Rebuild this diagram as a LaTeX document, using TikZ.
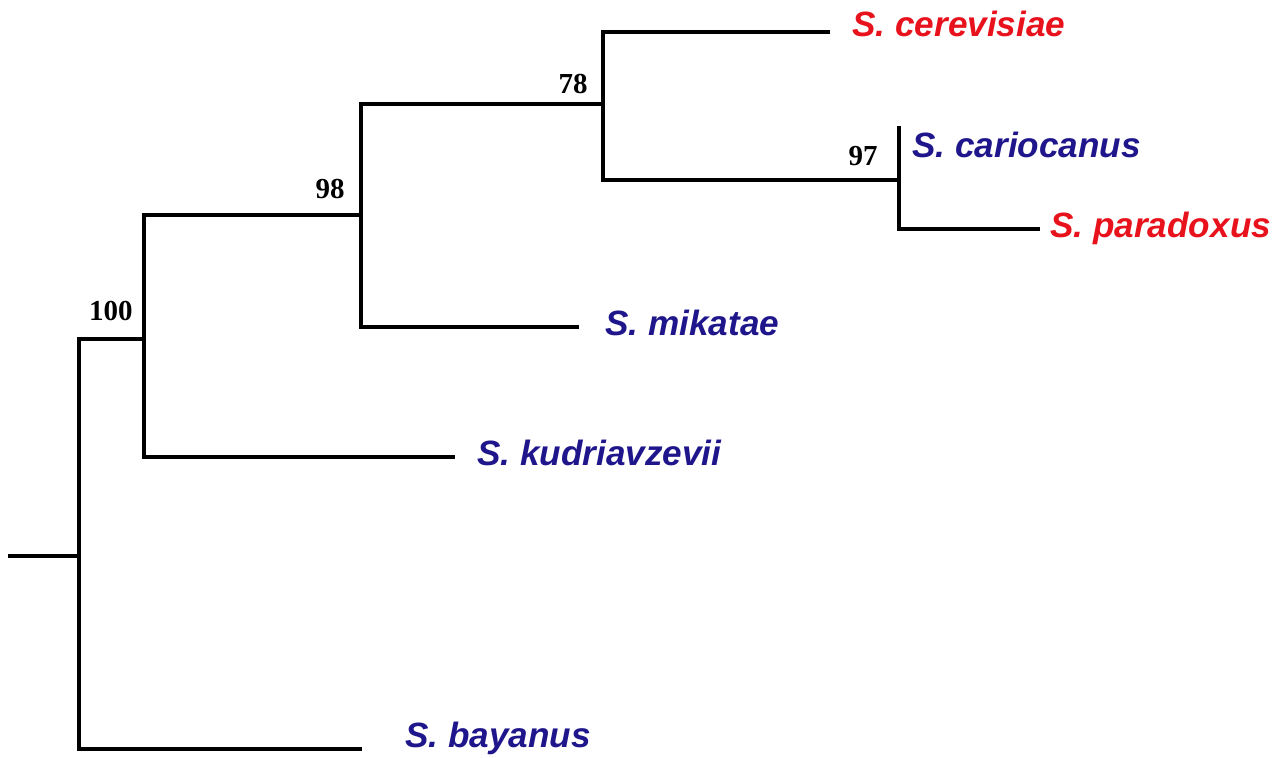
\documentclass[tikz,border=0pt]{standalone}
\usepackage{fontspec}
\setmainfont{Liberation Sans}
\newfontfamily\numfont{Liberation Serif}
\usetikzlibrary{positioning}
\definecolor{taxblue}{RGB}{32,22,140}
\definecolor{taxred}{RGB}{232,18,28}

\begin{document}
\begin{tikzpicture}[
        x=0.02cm, y=-0.02cm,
        branch/.style={line width=2.1pt, line cap=rect},
        taxon/.style={anchor=base west, inner sep=0pt, font=\fontsize{20}{24}\selectfont\bfseries\itshape},
        boot/.style={anchor=base east, inner sep=0pt, font=\fontsize{16.5}{19}\selectfont\numfont\bfseries}]

        \useasboundingbox (0,0) rectangle (1280,757);

        % inner nodes
        \coordinate (root) at (10,556);
        \coordinate (N0) at (79,556);
        \coordinate (N100) at (144,339);
        \coordinate (N98) at (361,215);
        \coordinate (N78) at (603,104);
        \coordinate (N97) at (899,180);

        % leaves
        \coordinate (bay) at (360,749);
        \coordinate (kud) at (453,457);
        \coordinate (mik) at (577,327);
        \coordinate (cer) at (828,32);
        \coordinate (car) at (899,128);
        \coordinate (par) at (1038,229);

        \draw[branch] (root) -- (N0);
        \draw[branch] (N0) |- (N100);
        \draw[branch] (N0) |- (bay);
        \draw[branch] (N100) |- (N98);
        \draw[branch] (N100) |- (kud);
        \draw[branch] (N98) |- (N78);
        \draw[branch] (N98) |- (mik);
        \draw[branch] (N78) |- (cer);
        \draw[branch] (N78) |- (N97);
        \draw[branch] (N97) |- (car);
        \draw[branch] (N97) |- (par);

        \node[taxon, taxred] (Lcer) at (852,37) {S. cerevisiae};
        \node[taxon, taxblue] (Lcar) at (912,157) {S. cariocanus};
        \node[taxon, taxred] (Lpar) at (1050,237) {S. paradoxus};
        \node[taxon, taxblue] (Lmik) at (605,335) {S. mikatae};
        \node[taxon, taxblue] (Lkud) at (477,465) {S. kudriavzevii};
        \node[taxon, taxblue] (Lbay) at (405,747) {S. bayanus};

        \node[boot] (B100) at (133,320) {100};
        \node[boot] (B98) at (345,198) {98};
        \node[boot] (B78) at (588,93) {78};
        \node[boot] (B97) at (878,165) {97};

    \end{tikzpicture}
\end{document}
